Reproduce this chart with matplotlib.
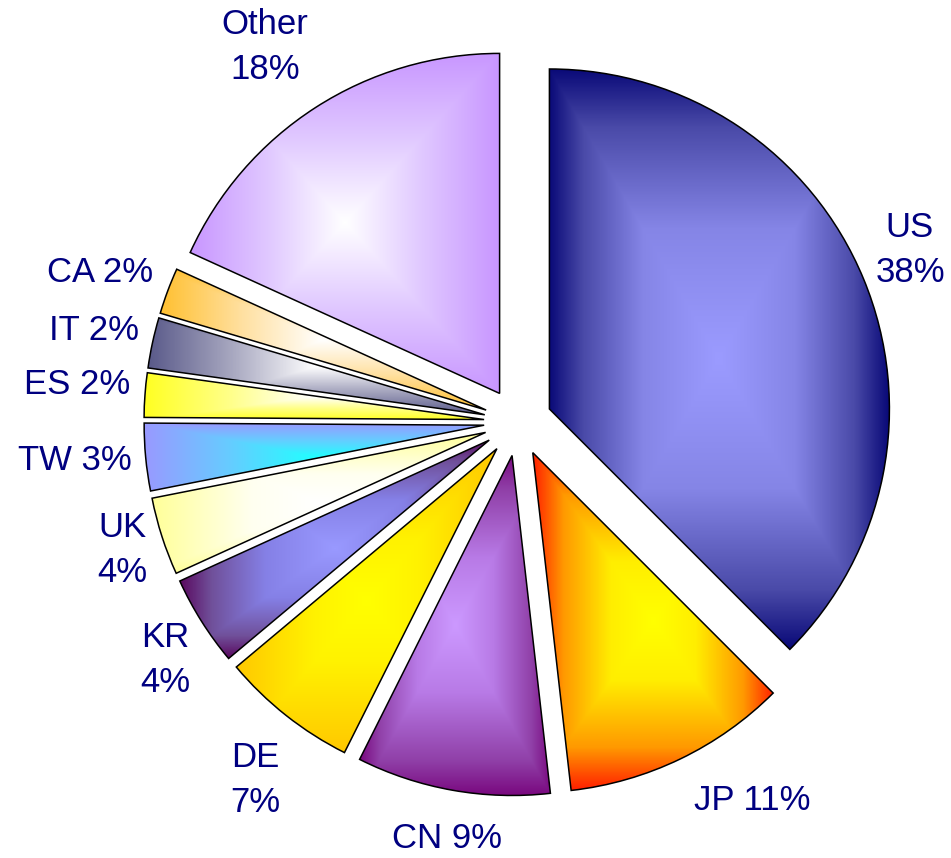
import numpy as np
import matplotlib
matplotlib.use("Agg")
import matplotlib.pyplot as plt
from matplotlib.colors import LinearSegmentedColormap

# data
countries = ["US", "JP", "CN", "DE", "KR", "UK", "TW", "ES", "IT", "CA", "Other"]
shares = [37.5, 10.7, 9.2, 6.5, 4.3, 3.7, 3.2, 2.1, 2.4, 2.2, 18.2]
label_text = ["US\n38%", "JP 11%", "CN 9%", "DE\n7%", "KR\n4%", "UK\n4%",
              "TW 3%", "ES 2%", "IT 2%", "CA 2%", "Other\n18%"]

# gradient stops (position, colour), from the middle of a slice to its edge
gradients = [
    [(0, "#9b9bff"), (0.45, "#8585e6"), (0.8, "#4a4aa8"), (1, "#0a0a78")],   # US
    [(0, "#ffff00"), (0.35, "#ffee00"), (0.75, "#ff9900"), (1, "#ff2200")],  # JP
    [(0, "#cc99ff"), (0.4, "#b87ae6"), (0.8, "#9040a8"), (1, "#7a0a80")],    # CN
    [(0, "#ffff00"), (0.4, "#fff200"), (1, "#ffc800")],                      # DE
    [(0, "#9999ff"), (0.45, "#8580e6"), (0.8, "#70509a"), (1, "#5a0a60")],   # KR
    [(0, "#ffffff"), (0.4, "#fffff0"), (1, "#ffff99")],                      # UK
    [(0, "#22ffff"), (0.5, "#66ccff"), (1, "#9999ff")],                      # TW
    [(0, "#ffffff"), (0.5, "#ffff88"), (1, "#ffff22")],                      # ES
    [(0, "#ffffff"), (0.5, "#a8a8c0"), (1, "#5a5a8a")],                      # IT
    [(0, "#ffffff"), (0.5, "#ffe0a0"), (1, "#ffc030")],                      # CA
    [(0, "#ffffff"), (0.5, "#e0c8ff"), (1, "#c896ff")],                      # Other
]

# label centres in pixels (from top-left of the picture)
label_pos = [(910, 250), (752, 800), (447, 838), (255, 780), (165, 660),
             (122, 550), (75, 460), (77, 385), (94, 330), (100, 273), (265, 47)]

W, H = 951, 858
cx_px, cy_px, r_px = 518, 422, 340

fig = plt.figure(figsize=(W / 100, H / 100), dpi=100)
ax = fig.add_axes([0, 0, 1, 1])

wedges, _ = ax.pie(shares, startangle=90, counterclock=False,
                   explode=[0.1] * len(shares), radius=1,
                   wedgeprops=dict(edgecolor="black", linewidth=1.1))

for w, stops in zip(wedges, gradients):
    # rectangular "from centre" gradient over the wedge's bounding box
    th = np.radians(np.linspace(w.theta1, w.theta2, 200))
    xs = np.concatenate([[w.center[0]], w.center[0] + w.r * np.cos(th)])
    ys = np.concatenate([[w.center[1]], w.center[1] + w.r * np.sin(th)])
    x0, x1, y0, y1 = xs.min(), xs.max(), ys.min(), ys.max()
    gx, gy = np.meshgrid(np.linspace(-1, 1, 300), np.linspace(-1, 1, 300))
    t = np.maximum(np.abs(gx), np.abs(gy))
    cmap = LinearSegmentedColormap.from_list("g", stops)
    im = ax.imshow(cmap(t), extent=(x0, x1, y0, y1), origin="lower",
                   interpolation="bilinear", zorder=w.get_zorder() - 0.1)
    im.set_clip_path(w)
    w.set_facecolor("none")
    w.set_zorder(w.get_zorder() + 1)

ax.set_xlim(-cx_px / r_px, (W - cx_px) / r_px)
ax.set_ylim(-(H - cy_px) / r_px, cy_px / r_px)
ax.set_aspect("equal")
ax.axis("off")

for txt, (px, py) in zip(label_text, label_pos):
    fig.text(px / W, 1 - py / H, txt, ha="center", va="center",
             fontsize=25, color="#000080", family="Liberation Sans",
             linespacing=1.45, multialignment="center")

fig.savefig("out.png", dpi=100)
